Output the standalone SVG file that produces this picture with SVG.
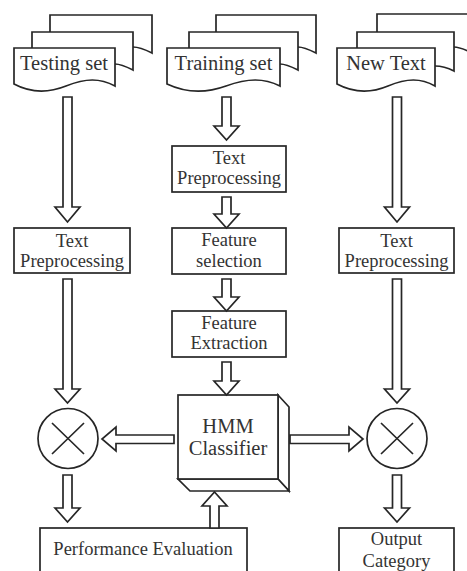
<svg xmlns="http://www.w3.org/2000/svg" width="467" height="571" viewBox="0 0 467 571">
<style>
.s{fill:#fff;stroke:#262626;stroke-width:1.7;stroke-linejoin:miter}
.w{fill:none;stroke:#262626;stroke-width:1.7}
.t{font-family:"Liberation Serif","Times New Roman",serif;fill:#333;text-anchor:middle}
.d{font-size:20.5px}
.b{font-size:18.5px}
.h{font-size:20.5px}
</style>
<rect width="467" height="571" fill="#fff"/>

<g id="doc-testing">
<path class="s" d="M50,32 V15 H152 V53 C146,50 140,47 133,47"/>
<path class="s" d="M32,48 V32 H133 V70 C127,67 121,64 115,64"/>
<path class="s" d="M14,48 H115 V86 C100,78 86,78 66,86 C46,94 29,92 14,84 Z"/>
<text class="t d" x="64" y="70">Testing set</text>
</g>

<g id="doc-training">
<path class="s" d="M216,32 V15 H316 V53 C310,50 304,47 298,47"/>
<path class="s" d="M189,48 V32 H298 V70 C292,67 286,64 280,64"/>
<path class="s" d="M167,48 H280 V86 C264,78 248,78 226,86 C204,94 184,92 167,84 Z"/>
<text class="t d" x="223.5" y="70">Training set</text>
</g>

<g id="doc-newtext">
<path class="s" d="M377,32 V14 H472 V53 C466,50 460,47 454,47"/>
<path class="s" d="M357,48 V32 H454 V71 C448,68 441,66 435,66"/>
<path class="s" d="M337,48 H435 V86 C421,78 407,78 388,86 C369,94 352,92 337,84 Z"/>
<text class="t d" x="386" y="70">New Text</text>
</g>

<g id="tp-left">
<rect class="s" x="14" y="228" width="116" height="45"/>
<text class="t b" x="72" y="247">Text</text>
<text class="t b" x="72" y="267">Preprocessing</text>
</g>

<g id="tp-mid">
<rect class="s" x="172" y="146" width="114" height="46"/>
<text class="t b" x="229" y="164">Text</text>
<text class="t b" x="229" y="184">Preprocessing</text>
</g>

<g id="feature-selection">
<rect class="s" x="172" y="228" width="114" height="46"/>
<text class="t b" x="229" y="246">Feature</text>
<text class="t b" x="229" y="267">selection</text>
</g>

<g id="feature-extraction">
<rect class="s" x="172" y="311" width="114" height="46"/>
<text class="t b" x="229" y="329">Feature</text>
<text class="t b" x="229" y="349">Extraction</text>
</g>

<g id="tp-right">
<rect class="s" x="339" y="228" width="115" height="45"/>
<text class="t b" x="396.5" y="247">Text</text>
<text class="t b" x="396.5" y="267">Preprocessing</text>
</g>

<g id="hmm">
<polygon class="s" points="278,395 289,407 289,491 278,479"/>
<polygon class="s" points="178,479 278,479 289,491 190,491"/>
<rect class="s" x="178" y="395" width="100" height="84"/>
<text class="t h" x="228" y="433">HMM</text>
<text class="t h" x="228" y="455">Classifier</text>
</g>

<g id="mult-left">
<circle class="s" cx="68" cy="438.5" r="30"/>
<path class="w" d="M52,423 L84,454 M84,423 L52,454"/>
</g>

<g id="mult-right">
<circle class="s" cx="397" cy="438.5" r="30"/>
<path class="w" d="M381,423 L413,454 M413,423 L381,454"/>
</g>

<g id="performance">
<rect class="s" x="40" y="528" width="207" height="60"/>
<text class="t b" x="143" y="555">Performance Evaluation</text>
</g>

<g id="output">
<rect class="s" x="339" y="528" width="115" height="60"/>
<text class="t b" x="396.5" y="545">Output</text>
<text class="t b" x="396.5" y="567">Category</text>
</g>

<g id="connectors">
<polygon class="s" points="63,97 72,97 72,207 80,207 67.5,222 55,207 63,207"/>
<polygon class="s" points="63,279 72,279 72,389 80,389 67.5,403 55,389 63,389"/>
<polygon class="s" points="63,475 72,475 72,508 80,508 67.5,522 55,508 63,508"/>

<polygon class="s" points="222,97 231,97 231,126 239,126 226.5,140 214,126 222,126"/>
<polygon class="s" points="222,197 231,197 231,214 239,214 226.5,228 214,214 222,214"/>
<polygon class="s" points="222,279 231,279 231,297 239,297 226.5,311 214,297 222,297"/>
<polygon class="s" points="222,362 231,362 231,381 239,381 226.5,395 214,381 222,381"/>
<polygon class="s" points="210,528 219,528 219,506 227,506 214.5,492 202,506 210,506"/>

<polygon class="s" points="392.5,97 401.5,97 401.5,207 409.5,207 397,222 384.5,207 392.5,207"/>
<polygon class="s" points="392.5,279 401.5,279 401.5,389 409.5,389 397,403 384.5,389 392.5,389"/>
<polygon class="s" points="392.5,475 401.5,475 401.5,508 409.5,508 397,522 384.5,508 392.5,508"/>

<polygon class="s" points="174,435 174,443.5 116,443.5 116,451 102,439 116,427 116,435"/>
<polygon class="s" points="290,435 290,443.5 349,443.5 349,451 363,439 349,427 349,435"/>
</g>
</svg>
